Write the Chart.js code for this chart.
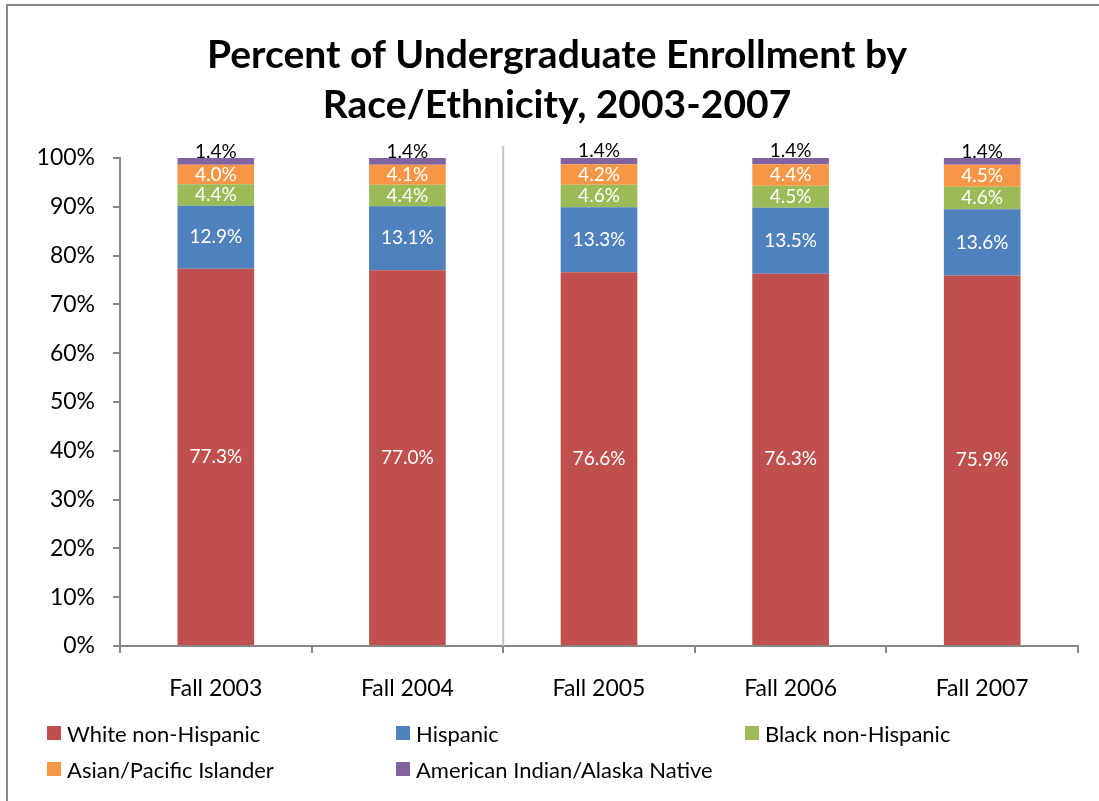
<!DOCTYPE html>
<html>
<head>
<meta charset="utf-8">
<script src="https://cdn.jsdelivr.net/npm/chart.js@4.4.1/dist/chart.umd.min.js"></script>
<style>
  body { margin: 0; background: #fff; overflow: hidden; }
  #wrap { position: relative; width: 1099px; height: 801px; }
  #frame { position: absolute; left: 6px; top: 4px; width: 1200px; height: 900px;
           border-top: 2px solid #888; border-left: 2px solid #888; }
  #chart { position: absolute; left: 0; top: 0; }
  #legend { position: absolute; left: 47px; top: 715px; display: grid;
            grid-template-columns: 349px 349px 349px; grid-auto-rows: 36px;
            font-family: Lato, sans-serif; font-size: 22px; color: #000; }
  .item { display: flex; align-items: center; }
  .box { width: 14px; height: 14px; margin-right: 6px; }
</style>
</head>
<body>
<div id="wrap">
  <div id="frame"></div>
  <canvas id="chart" width="1099" height="801"></canvas>
  <div id="legend"></div>
</div>
<script>
const years = ['Fall 2003', 'Fall 2004', 'Fall 2005', 'Fall 2006', 'Fall 2007'];
const whiteNonHispanic = [77.3, 77.0, 76.6, 76.3, 75.9];
const hispanic = [12.9, 13.1, 13.3, 13.5, 13.6];
const blackNonHispanic = [4.4, 4.4, 4.6, 4.5, 4.6];
const asianPacific = [4.0, 4.1, 4.2, 4.4, 4.5];
const amIndianAlaska = [1.4, 1.4, 1.4, 1.4, 1.4];
const yTicks = [0, 10, 20, 30, 40, 50, 60, 70, 80, 90, 100];

const axisGray = '#868686';

// value labels in the middle of each segment
const segmentLabels = {
  id: 'segmentLabels',
  afterDatasetsDraw(chart) {
    const ctx = chart.ctx;
    ctx.save();
    ctx.font = '19px Lato';
    ctx.textAlign = 'center';
    ctx.textBaseline = 'middle';
    chart.data.datasets.forEach((ds, i) => {
      const meta = chart.getDatasetMeta(i);
      meta.data.forEach((bar, j) => {
        const y = (bar.y + bar.base) / 2 + ds.labelShift;
        ctx.fillStyle = ds.labelColor;
        ctx.fillText(ds.data[j].toFixed(1) + '%', bar.x, y);
      });
    });
    ctx.restore();
  }
};

// the light vertical line between Fall 2004 and Fall 2005
const divider = {
  id: 'divider',
  beforeDatasetsDraw(chart) {
    const x = chart.scales.x;
    const px = (x.getPixelForValue(1) + x.getPixelForValue(2)) / 2;
    const ctx = chart.ctx;
    ctx.save();
    ctx.strokeStyle = '#c4c4c4';
    ctx.lineWidth = 2;
    ctx.beginPath();
    ctx.moveTo(px, chart.chartArea.top - 12);
    ctx.lineTo(px, chart.chartArea.bottom);
    ctx.stroke();
    ctx.restore();
  }
};

function draw() {
  const chart = new Chart(document.getElementById('chart'), {
    type: 'bar',
    data: {
      labels: years,
      datasets: [
        { label: 'White non-Hispanic', data: whiteNonHispanic, backgroundColor: '#C0504D', labelColor: '#fff', labelShift: 0 },
        { label: 'Hispanic', data: hispanic, backgroundColor: '#4F81BD', labelColor: '#fff', labelShift: 0 },
        { label: 'Black non-Hispanic', data: blackNonHispanic, backgroundColor: '#9BBB59', labelColor: '#fff', labelShift: 0 },
        { label: 'Asian/Pacific Islander', data: asianPacific, backgroundColor: '#F79646', labelColor: '#fff', labelShift: 0 },
        { label: 'American Indian/Alaska Native', data: amIndianAlaska, backgroundColor: '#8064A2', labelColor: '#000', labelShift: -10 }
      ]
    },
    options: {
      responsive: false,
      animation: false,
      barPercentage: 0.4,
      categoryPercentage: 1.0,
      layout: { padding: { top: 0, left: 36, right: 21, bottom: 95 } },
      plugins: {
        legend: { display: false },
        tooltip: { enabled: false },
        title: {
          display: true,
          text: ['Percent of Undergraduate Enrollment by', 'Race/Ethnicity, 2003-2007'],
          color: '#000',
          font: { family: 'Lato', size: 39, weight: 'bold', lineHeight: 1.282 },
          padding: { top: 30, bottom: 28 }
        }
      },
      scales: {
        x: {
          stacked: true,
          grid: { offset: true, drawOnChartArea: false, tickLength: 7, color: axisGray, lineWidth: 2 },
          border: { color: axisGray, width: 2 },
          ticks: { color: '#000', padding: 22, font: { family: 'Lato', size: 23 } },
          afterFit(scale) { scale.height = 60; }
        },
        y: {
          stacked: true,
          min: 0,
          max: 100,
          afterBuildTicks(scale) { scale.ticks = yTicks.map(v => ({ value: v })); },
          grid: { drawOnChartArea: false, tickLength: 7, color: axisGray, lineWidth: 2 },
          border: { color: axisGray, width: 2 },
          ticks: { color: '#000', padding: 18, font: { family: 'Lato', size: 23 },
                   callback: v => v + '%' },
          afterFit(scale) { scale.width = 84; }
        }
      }
    },
    plugins: [segmentLabels, divider]
  });

  const legend = document.getElementById('legend');
  chart.data.datasets.forEach(ds => {
    const item = document.createElement('div');
    item.className = 'item';
    item.innerHTML = `<span class="box" style="background:${ds.backgroundColor}"></span><span>${ds.label}</span>`;
    legend.appendChild(item);
  });
}

document.fonts.load('bold 39px Lato').then(draw, draw);
</script>
</body>
</html>
